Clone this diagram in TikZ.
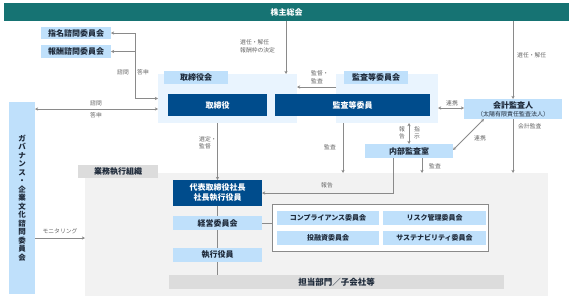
\documentclass[tikz,border=0pt]{standalone}
\usepackage{fontspec}
\setmainfont{Noto Sans CJK JP}
\usetikzlibrary{arrows.meta}
\definecolor{teal1}{HTML}{167373}
\definecolor{navy}{HTML}{004C8C}
\definecolor{lblue}{HTML}{BFE0FB}
\definecolor{pale}{HTML}{E9F4FE}
\definecolor{gbg}{HTML}{F2F2F2}
\definecolor{glab}{HTML}{DCDCDC}
\definecolor{arrc}{HTML}{8A8A8A}
\definecolor{labc}{HTML}{666666}
\definecolor{txt}{HTML}{1E2A3A}
\tikzset{
  base/.style={inner sep=0pt, outer sep=0pt, font=\bfseries\fontsize{8}{9.6}\selectfont},
  lbox/.style={base, fill=lblue, text=txt},
  dbox/.style={base, fill=navy, text=white},
  region/.style={inner sep=0pt, outer sep=0pt, fill=pale},
  gregion/.style={inner sep=0pt, outer sep=0pt, fill=gbg},
  gbox/.style={base, fill=glab, text=txt},
  cbox/.style={lbox, font=\bfseries\fontsize{7}{8}\selectfont},
  arr/.style={draw=arrc, line width=0.8pt, -{Stealth[length=3.2pt,width=3.2pt]}},
  darr/.style={draw=arrc, line width=0.8pt, {Stealth[length=3.2pt,width=3.2pt]}-{Stealth[length=3.2pt,width=3.2pt]}},
  ln/.style={draw=arrc, line width=0.8pt},
  lab/.style={inner sep=0pt, text=labc, font=\fontsize{5.8}{7.5}\selectfont, align=left},
}
\begin{document}
\begin{tikzpicture}[x=1pt,y=-1pt]
\useasboundingbox (0,0) rectangle (572,300);
% regions
\node[region, minimum width=139pt, minimum height=49pt] (trbkai) at (227.5,98.5) {};
\node[region, minimum width=102pt, minimum height=49pt] (kansakai) at (387,98.5) {};
\node[gregion, minimum width=463pt, minimum height=123pt] (gyomu) at (316.5,234.5) {};
% top
\node[base, fill=teal1, text=white, minimum width=565pt, minimum height=18pt] (soukai) at (286.5,12) {株主総会};
\node[lbox, minimum width=70pt, minimum height=12.5pt] (shimei) at (76,33) {指名諮問委員会};
\node[lbox, minimum width=70pt, minimum height=12.5pt] (houshu) at (76,51.5) {報酬諮問委員会};
\node[lbox, minimum width=64pt, minimum height=13pt] (trblab) at (196,77.5) {取締役会};
\node[lbox, minimum width=64pt, minimum height=13pt] (kansalab) at (376,77.5) {監査等委員会};
\node[dbox, minimum width=99pt, minimum height=22pt] (trb) at (217.5,105) {取締役};
\node[dbox, minimum width=155pt, minimum height=22pt] (kansaiin) at (352.5,105) {監査等委員};
\node[lbox, minimum width=98pt, minimum height=20pt, align=center] (kaikei) at (513,109)
  {会計監査人\\[-1.5pt]{\mdseries\fontsize{6}{7}\selectfont （太陽有限責任監査法人）}};
\node[lbox, minimum width=88pt, minimum height=14pt] (naibu) at (409,151) {内部監査室};
% governance
\node[lbox, minimum width=26pt, minimum height=192pt, align=center,
  font=\bfseries\fontsize{7.5}{8.5}\selectfont] (gov) at (22,198)
  {ガ\\バ\\ナ\\ン\\ス\\・\\企\\業\\文\\化\\諮\\問\\委\\員\\会};
% execution
\node[gbox, minimum width=80pt, minimum height=13pt] (gyolab) at (118,171.5) {業務執行組織};
\node[dbox, minimum width=89pt, minimum height=26pt, align=center,
  font=\bfseries\fontsize{8}{10}\selectfont] (daihyo) at (217.5,193) {代表取締役社長\\社長執行役員};
\node[lbox, minimum width=89pt, minimum height=14pt] (keiei) at (217.5,223) {経営委員会};
\node[lbox, minimum width=89pt, minimum height=14pt] (shikko) at (217.5,255) {執行役員};
\node[gbox, minimum width=335pt, minimum height=14pt, font=\bfseries\fontsize{8.5}{10}\selectfont] (tanto) at (336.5,282) {担当部門／子会社等};
\node[inner sep=0pt, outer sep=0pt, fill=white, draw=arrc, line width=0.8pt, minimum width=216pt, minimum height=47pt] (comm) at (380,227.5) {};
\node[cbox, minimum width=102pt, minimum height=14pt] (comp) at (328,218) {コンプライアンス委員会};
\node[cbox, minimum width=103pt, minimum height=14pt] (risk) at (434.5,218) {リスク管理委員会};
\node[cbox, minimum width=102pt, minimum height=14pt] (toyu) at (328,238) {投融資委員会};
\node[cbox, minimum width=103pt, minimum height=14pt] (sust) at (434.5,238) {サステナビリティ委員会};
% connectors
\draw[arr] (soukai.south -| 286,0) -- (trbkai.north -| 286,0);
\draw[arr] (soukai.south -| kaikei.north) -- (kaikei.north);
\coordinate (sj) at (135,33);
\draw[arr] (sj) -- (shimei.east);
\draw[arr] (sj |- houshu.east) -- (houshu.east);
\draw[arr] (sj) -- (sj |- trbkai.west) -- (trbkai.west);
\draw[darr] (gov.east |- 0,109) -- (trbkai.west |- 0,109);
\draw[arr] (gov.east |- 0,238) -- (gyomu.west |- 0,238);
\draw[arr] (kansakai.west |- 0,87) -- (trbkai.east |- 0,87);
\draw[darr] (kansakai.east |- 0,108) -- (kaikei.west |- 0,108);
\draw[darr] (kansakai.south -| naibu.north) -- (naibu.north);
\draw[arr] (kansakai.south -| 343,0) -- (gyomu.north -| 343,0);
\draw[arr] (naibu.south -| 422,0) -- (gyomu.north -| 422,0);
\draw[darr] (naibu.east |- 0,150) -- (kaikei.south -| 484,0);
\draw[arr] (kaikei.south) -- (gyomu.north -| kaikei.south);
\draw[arr] (naibu.south -| 393,0) -- (393,193) -- (daihyo.east);
\draw[arr] (trbkai.south -| daihyo.north) -- (daihyo.north);
\draw[ln] (daihyo.south) -- (keiei.north);
\draw[ln] (keiei.south) -- (shikko.north);
\draw[ln] (shikko.south) -- (tanto.north -| shikko.south);
\draw[ln] (keiei.east) -- (keiei.east -| comm.west);
% labels
\node[lab, anchor=west] (l1) at (240,46.5) {選任・解任\\報酬枠の決定};
\node[lab] (l2) at (123,72) {諮問};
\node[lab] (l3) at (143,72) {答申};
\node[lab, anchor=west] (l4) at (517,55) {選任・解任};
\node[lab, anchor=west] (l5) at (311,77) {監督・\\監査};
\node[lab] (l6) at (452,103) {連携};
\node[lab, anchor=west] (l7) at (518,126) {会計監査};
\node[lab] (l8) at (480,138) {連携};
\node[lab, align=center] (l9) at (402,133) {報\\告};
\node[lab, align=center] (l10) at (417,133) {指\\示};
\node[lab] (l11) at (330,147) {監査};
\node[lab] (l12) at (435,166) {監査};
\node[lab] (l13) at (327,185) {報告};
\node[lab, anchor=west] (l14) at (199,143) {選定・\\監督};
\node[lab] (l15) at (96,103) {諮問};
\node[lab] (l16) at (96,115) {答申};
\node[lab] (l17) at (60,231) {モニタリング};
\end{tikzpicture}
\end{document}
